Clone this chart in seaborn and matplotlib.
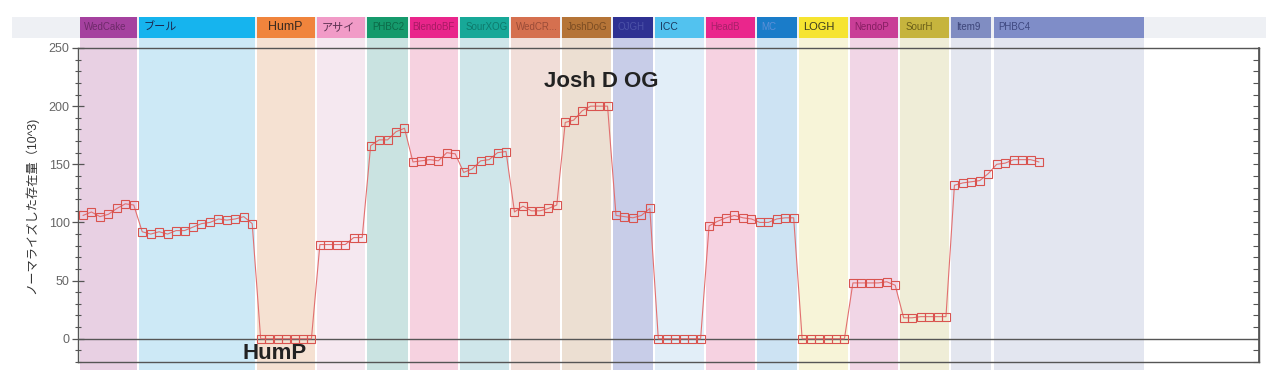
import numpy as np
import pandas as pd
import matplotlib
matplotlib.use("Agg")
import matplotlib.pyplot as plt
import seaborn as sns
from matplotlib.patches import Rectangle
from matplotlib.transforms import blended_transform_factory
from matplotlib.ticker import MultipleLocator

# ---------------- data ----------------
categories = ["WedCake", "ブール", "HumP", "アサイ", "PHBC2", "BlendoBF", "SourXOG",
              "WedCR...", "JoshDoG", "OJGH", "ICC", "HeadB", "MC", "LOGH",
              "NendoP", "SourH", "Item9", "PHBC4"]

v_wedcake = [106, 109, 105, 107, 112, 116, 115]
v_buru = [92, 90, 92, 90, 93, 93, 96, 99, 100, 103, 102, 103, 105, 99]
v_hump = [0, 0, 0, 0, 0, 0, 0]
v_asai = [81, 81, 81, 81, 87, 87]
v_phbc2 = [166, 171, 171, 178, 181]
v_blendobf = [152, 153, 154, 153, 160, 159]
v_sourxog = [143, 146, 153, 154, 160, 161]
v_wedcr = [109, 114, 110, 110, 112, 115]
v_joshdog = [186, 188, 196, 200, 200, 200]
v_ojgh = [106, 105, 104, 106, 112]
v_icc = [0, 0, 0, 0, 0, 0]
v_headb = [97, 101, 104, 106, 104, 103]
v_mc = [100, 100, 103, 104, 104]
v_logh = [0, 0, 0, 0, 0, 0]
v_nendop = [48, 48, 48, 48, 49, 46]
v_sourh = [18, 18, 19, 19, 19, 19]
v_item9 = [132, 134, 135, 136, 142]
v_phbc4 = [150, 151, 154, 154, 154, 152]

series_values = [v_wedcake, v_buru, v_hump, v_asai, v_phbc2, v_blendobf, v_sourxog,
                 v_wedcr, v_joshdog, v_ojgh, v_icc, v_headb, v_mc, v_logh,
                 v_nendop, v_sourh, v_item9, v_phbc4]
# number of sample slots each band spans (PHBC4 band continues past its data)
band_slots = [7, 14, 7, 6, 5, 6, 6, 6, 6, 5, 6, 6, 5, 6, 6, 6, 5, 18]

y_ticks = [0, 50, 100, 150, 200, 250]
y_label = "ノーマライズした存在量（10^3)"
annotations = [("Josh D OG", 61.2, 221), ("HumP", 22.7, -13)]

header_colors = ['#a5419f', '#16b4ee', '#f0843c', '#f19bc7', '#159a6c', '#e9258b',
                 '#17a898', '#d5704f', '#b57437', '#2e3192', '#52c2ef', '#ea268c',
                 '#1a7cc9', '#f6e430', '#c93e97', '#c6b43d', '#808dc2', '#7f8dc8']
band_colors = ['#e8d0e3', '#cde9f6', '#f5e1d2', '#f5e8f0', '#cae3e1', '#f6d2e0',
               '#cfe6ea', '#f1ded9', '#ecdfd2', '#c8cde8', '#e2eef8', '#f6d2e1',
               '#cde3f3', '#f7f4d8', '#f1d6e6', '#efedd7', '#e3e6ef', '#e3e6f0']
text_colors = ['#6e2a6a', '#1c2850', '#3a2a20', '#5a3050', '#0c6a48', '#a81a64',
               '#0e7a6c', '#9a4c38', '#7a4c22', '#4c52a8', '#1c3a60', '#a8206a',
               '#5c90d8', '#3a3a20', '#861e62', '#6a5e18', '#3c4478', '#3e4880']
text_sizes = [7, 8, 9, 8, 7, 7, 7, 7, 7, 7, 7.5, 7, 7, 8, 7, 7, 7, 7]
text_offsets = [0.55, 0.55, 1.3, 0.55, 0.55, 0.3, 0.55, 0.55, 0.55, 0.55, 0.55,
                0.55, 0.55, 0.55, 0.55, 0.55, 0.55, 0.55]

# ---------------- build table ----------------
rows = []
idx = 0
for cat, vals in zip(categories, series_values):
    for v in vals:
        rows.append({"idx": idx, "value": v, "category": cat})
        idx += 1
df = pd.DataFrame(rows)

# ---------------- plot ----------------
sns.set_theme(style="white")
plt.rcParams['font.family'] = ['Liberation Sans', 'Noto Sans CJK JP', 'DejaVu Sans']

W, H = 1280, 390
fig = plt.figure(figsize=(12.8, 3.9), dpi=100)
L, R, T, B = 78, 1259, 48, 362
ax = fig.add_axes([L / W, (H - B) / H, (R - L) / W, (B - T) / H])

ax.set_xlim(-0.59, 139.0)
ax.set_ylim(-20, 250)

trans = blended_transform_factory(ax.transData, ax.transAxes)
ph = B - T
band_bot = (B - 370) / ph
band_top = (B - 38) / ph
head_top = (B - 17) / ph
gap = 0.12

# grey header strip background
fig.add_artist(Rectangle((12 / W, (H - 38) / H), (1266 - 12) / W, 21 / H,
                         transform=fig.transFigure, facecolor='#eef0f4',
                         edgecolor='none', zorder=-1))

start = 0
for cat, n, hc, bc, tc, ts, to in zip(categories, band_slots, header_colors, band_colors,
                                      text_colors, text_sizes, text_offsets):
    x0 = start - 0.5 + gap
    w = n - 2 * gap
    ax.add_patch(Rectangle((x0, band_bot), w, band_top - band_bot, transform=trans,
                           facecolor=bc, edgecolor='none', clip_on=False, zorder=0))
    ax.add_patch(Rectangle((x0, band_top), w, head_top - band_top, transform=trans,
                           facecolor=hc, edgecolor='none', clip_on=False, zorder=0))
    ax.text(x0 + to, (band_top + head_top) / 2, cat, transform=trans,
            ha='left', va='center', fontsize=ts, color=tc, clip_on=False)
    start += n

ax.axhline(0, color='#555555', lw=1.0, zorder=1)

sns.lineplot(data=df, x="idx", y="value", ax=ax, color='#e27070', linewidth=0.8,
             marker='s', markersize=6, markerfacecolor='none',
             markeredgecolor='#d9534f', markeredgewidth=0.8, zorder=3)
for ln in ax.lines[1:]:
    ln.set_markeredgecolor('#d9534f')
    ln.set_markerfacecolor('none')

for txt, xx, yy in annotations:
    ax.text(xx, yy, txt, ha='center', va='center', fontsize=16,
            fontweight='bold', color='#222222', zorder=4)

# axes styling
for side in ['left', 'right', 'top', 'bottom']:
    ax.spines[side].set_visible(True)
    ax.spines[side].set_color('#555555')
    ax.spines[side].set_linewidth(1.0)
    ax.spines[side].set_zorder(2.5)

ax.set_xticks([])
ax.set_xlabel("")
ax.set_yticks(y_ticks)
ax.yaxis.set_minor_locator(MultipleLocator(10))
ax.tick_params(axis='y', which='major', left=True, direction='inout', length=8,
               width=0.9, color='#555555', labelsize=9, labelcolor='#666666', pad=2)
ax.tick_params(axis='y', which='minor', left=True, direction='inout', length=5,
               width=0.8, color='#555555')

sec = ax.secondary_yaxis('right')
sec.set_yticks(y_ticks)
sec.yaxis.set_minor_locator(MultipleLocator(10))
sec.tick_params(axis='y', which='both', direction='in', length=4, width=0.8,
                color='#555555', labelright=False)
sec.spines['right'].set_color('#555555')

ax.set_ylabel(y_label, fontsize=8.8, color='#333333')
ax.yaxis.set_label_coords((38 - L) / (R - L), 0.5)

fig.savefig("out.png", dpi=100, facecolor='white')
